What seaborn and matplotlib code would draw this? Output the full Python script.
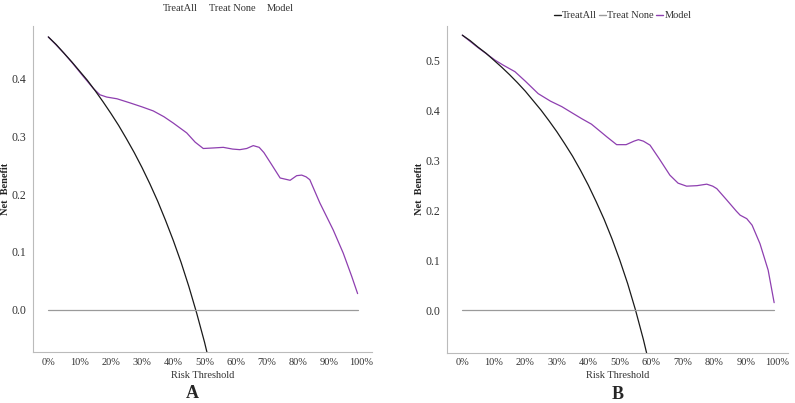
import numpy as np
import pandas as pd
import matplotlib
matplotlib.use("Agg")
import matplotlib.pyplot as plt
from matplotlib.lines import Line2D
import seaborn as sns

# 绘图风格
sns.set_style("white")
plt.rcParams['font.family'] = ['Liberation Serif', 'DejaVu Serif']

# ---- 数据 ----
# A: Treat All
ta_a_x = [0, 0.025, 0.05, 0.075, 0.10, 0.125, 0.15, 0.175, 0.20, 0.225, 0.25, 0.275,
          0.30, 0.325, 0.35, 0.375, 0.40, 0.425, 0.45, 0.475, 0.50, 0.525, 0.55]
ta_a_y = [0.472, 0.459, 0.444, 0.429, 0.413, 0.397, 0.379, 0.360, 0.340, 0.319, 0.296, 0.272,
          0.246, 0.218, 0.188, 0.155, 0.120, 0.082, 0.040, -0.006, -0.056, -0.112, -0.173]
# A: Model
md_a_x = [0, 0.02, 0.05, 0.08, 0.11, 0.144, 0.165, 0.187, 0.22, 0.261, 0.30, 0.336, 0.37,
          0.40, 0.443, 0.47, 0.496, 0.53, 0.56, 0.59, 0.613, 0.635, 0.656, 0.675, 0.69,
          0.715, 0.742, 0.774, 0.795, 0.811, 0.825, 0.837, 0.869, 0.912, 0.944, 0.971, 0.99]
md_a_y = [0.472, 0.461, 0.444, 0.425, 0.405, 0.383, 0.372, 0.368, 0.365, 0.358, 0.351, 0.344, 0.334,
          0.323, 0.306, 0.290, 0.279, 0.280, 0.281, 0.278, 0.277, 0.279, 0.284, 0.281, 0.272,
          0.251, 0.228, 0.224, 0.232, 0.233, 0.230, 0.225, 0.185, 0.138, 0.098, 0.058, 0.028]

# B: Treat All
ta_b_x = [0, 0.025, 0.05, 0.075, 0.10, 0.125, 0.15, 0.175, 0.20, 0.225, 0.25, 0.275,
          0.30, 0.325, 0.35, 0.375, 0.40, 0.425, 0.45, 0.475, 0.50, 0.525, 0.55, 0.575, 0.60]
ta_b_y = [0.550, 0.539, 0.526, 0.514, 0.500, 0.486, 0.471, 0.455, 0.438, 0.419, 0.400, 0.379,
          0.357, 0.333, 0.308, 0.280, 0.250, 0.217, 0.182, 0.143, 0.100, 0.053, 0.000, -0.059, -0.125]
# B: Model
md_b_x = [0, 0.05, 0.104, 0.13, 0.167, 0.20, 0.241, 0.28, 0.316, 0.35, 0.379, 0.41, 0.437,
          0.46, 0.49, 0.52, 0.545, 0.559, 0.575, 0.596, 0.625, 0.659, 0.685, 0.712, 0.745,
          0.776, 0.795, 0.808, 0.84, 0.87, 0.882, 0.903, 0.92, 0.945, 0.971, 0.99]
md_b_y = [0.550, 0.525, 0.500, 0.490, 0.477, 0.458, 0.433, 0.418, 0.407, 0.394, 0.383, 0.372, 0.358,
          0.346, 0.331, 0.331, 0.338, 0.341, 0.338, 0.330, 0.303, 0.270, 0.254, 0.248, 0.249,
          0.252, 0.248, 0.243, 0.220, 0.198, 0.190, 0.183, 0.170, 0.133, 0.080, 0.015]

# Treat None
tn_x = [0, 0.99]
tn_y = [0, 0]

x_ticks = [0, 0.1, 0.2, 0.3, 0.4, 0.5, 0.6, 0.7, 0.8, 0.9, 1.0]
x_labels = ['0%', '10%', '20%', '30%', '40%', '50%', '60%', '70%', '80%', '90%', '100%']
legend_labels = ['TreatAll', 'Treat None', 'Model']

c_all, c_none, c_model = '#1a1a1a', '#9a9a9a', '#8e3fb0'

fig = plt.figure(figsize=(7.95, 4.03), dpi=100)
ax_a = fig.add_axes([0.0415, 0.1266, 0.4264, 0.809])
ax_b = fig.add_axes([0.5619, 0.1249, 0.4293, 0.8102])


def draw(ax, ta_x, ta_y, md_x, md_y, yticks, xlim, ylim, letter, letter_x, show_handles):
    sns.lineplot(x=md_x, y=md_y, ax=ax, color=c_model, lw=0.9, sort=False)
    sns.lineplot(x=ta_x, y=ta_y, ax=ax, color=c_all, lw=0.9, sort=False)
    sns.lineplot(x=tn_x, y=tn_y, ax=ax, color=c_none, lw=0.9, sort=False)
    ax.set_xlim(*xlim)
    ax.set_ylim(*ylim)
    ax.set_xticks(x_ticks)
    ax.set_xticklabels(x_labels, fontsize=7.5, color='#333333')
    ax.set_yticks(yticks)
    ax.set_yticklabels([f'{v:.1f}' for v in yticks], fontsize=8.5, color='#333333')
    ax.tick_params(axis='y', length=2.5, width=0.6, color='#aaaaaa', pad=2)
    ax.tick_params(axis='x', length=0, pad=4)
    for s in ['top', 'right']:
        ax.spines[s].set_visible(False)
    for s in ['left', 'bottom']:
        ax.spines[s].set_color('#bbbbbb')
        ax.spines[s].set_linewidth(0.8)
    ax.set_xlabel('Risk Threshold', fontsize=7.5, color='#333333', labelpad=3)
    ax.set_ylabel('Net  Benefit', fontsize=7.5, fontweight='bold', color='#222222', labelpad=1)
    ax.text(letter_x, -0.141, letter, transform=ax.transAxes, ha='center', va='baseline',
            fontsize=13, fontweight='bold')
    if show_handles:
        handles = [Line2D([], [], color=c, lw=1) for c in [c_all, c_none, c_model]]
        leg = ax.legend(handles, legend_labels, loc='lower center',
                        bbox_to_anchor=(0.515, 1.0), ncol=3, frameon=False, fontsize=7.5,
                        handlelength=0.7, handletextpad=0.1, columnspacing=0.2,
                        borderaxespad=0.15)
    else:
        handles = [Line2D([], [], color='white', lw=1) for _ in range(3)]
        leg = ax.legend(handles, legend_labels, loc='lower center',
                        bbox_to_anchor=(0.565, 1.0), ncol=3, frameon=False, fontsize=7.5,
                        handlelength=0.5, handletextpad=0.2, columnspacing=0.35,
                        borderaxespad=0.8)
    for t in leg.get_texts():
        t.set_color('#333333')


draw(ax_a, ta_a_x, ta_a_y, md_a_x, md_a_y, [0.0, 0.1, 0.2, 0.3, 0.4],
     (-0.049, 1.036), (-0.073, 0.491), 'A', 0.469, False)
draw(ax_b, ta_b_x, ta_b_y, md_b_x, md_b_y, [0.0, 0.1, 0.2, 0.3, 0.4, 0.5],
     (-0.0495, 1.034), (-0.085, 0.568), 'B', 0.5, True)

fig.savefig('out.png', dpi=100)
